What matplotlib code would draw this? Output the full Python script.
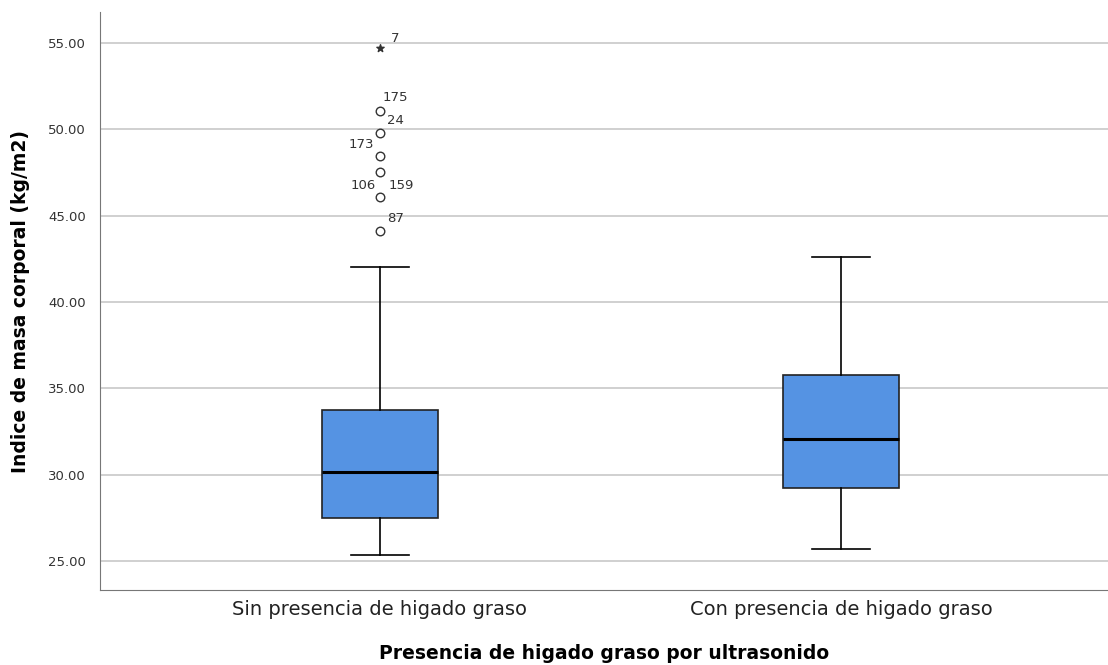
import matplotlib.pyplot as plt

# datos
categorias = ["Sin presencia de higado graso", "Con presencia de higado graso"]
q1 = [27.50, 29.23]
mediana = [30.18, 32.07]
q3 = [33.75, 35.78]
bigote_inf = [25.35, 25.70]
bigote_sup = [42.03, 42.61]

# valores atipicos del primer grupo
atipicos = [51.06, 49.79, 48.46, 47.53, 46.08, 44.11]
extremos = [54.70]
# numero de caso y valor al que se refiere cada etiqueta
etiquetas = ["7", "175", "24", "173", "106", "159", "87"]
valores_etiq = [54.70, 51.06, 49.79, 48.46, 46.08, 46.08, 44.11]

color_caja = "#5593e3"

fig = plt.figure(figsize=(11.08, 6.65), dpi=100)
ax = fig.add_axes([100 / 1108, 75 / 665, 1008 / 1108, 578 / 665])

stats = []
for i in range(len(categorias)):
    stats.append({
        "med": mediana[i], "q1": q1[i], "q3": q3[i],
        "whislo": bigote_inf[i], "whishi": bigote_sup[i],
        "fliers": [], "label": categorias[i],
    })

ax.bxp(stats, positions=[0, 1], widths=0.25, patch_artist=True,
       showfliers=False,
       boxprops=dict(facecolor=color_caja, edgecolor="#222222", linewidth=1.2),
       medianprops=dict(color="black", linewidth=2.2),
       whiskerprops=dict(color="black", linewidth=1.2),
       capprops=dict(color="black", linewidth=1.2),
       capwidths=0.125, zorder=3)

ax.scatter([0] * len(atipicos), atipicos, s=38, facecolors="white",
           edgecolors="#333333", linewidths=1.0, zorder=4)
ax.scatter([0] * len(extremos), extremos, s=30, marker="*", color="#333333",
           zorder=4)

# posiciones de las etiquetas (desplazamiento en puntos)
desp = {"7": (8, 7), "175": (2, 10), "24": (5, 9), "173": (-4, 8),
        "159": (6, 8), "106": (-3, 8), "87": (5, 9)}
for v, t in zip(valores_etiq, etiquetas):
    dx, dy = desp[t]
    ha = "right" if dx < 0 else "left"
    ax.annotate(t, (0, v), xytext=(dx, dy), textcoords="offset points",
                ha=ha, va="center", fontsize=9.5, color="#333333")

ax.set_xlim(-0.607, 1.579)
ax.set_ylim(23.32, 56.8)
ax.set_yticks([25, 30, 35, 40, 45, 50, 55])
ax.set_yticklabels([f"{v:.2f}" for v in [25, 30, 35, 40, 45, 50, 55]])
ax.set_xticks([0, 1])
ax.set_xticklabels(categorias, fontsize=14, color="#222222")
ax.tick_params(axis="y", labelsize=9.5, colors="#333333", length=0, pad=10)
ax.tick_params(axis="x", length=0, pad=7)
ax.yaxis.grid(True, color="#c8c8c8", linewidth=1.2, zorder=0)
ax.set_axisbelow(True)

for s in ["top", "right"]:
    ax.spines[s].set_visible(False)
ax.spines["left"].set_color("#777777")
ax.spines["bottom"].set_color("#777777")

ax.set_ylabel("Indice de masa corporal (kg/m2)", fontsize=13.5,
              fontweight="bold", labelpad=13)
ax.set_xlabel("Presencia de higado graso por ultrasonido", fontsize=13.5,
              fontweight="bold", labelpad=18)

plt.savefig("out.png", dpi=100)
